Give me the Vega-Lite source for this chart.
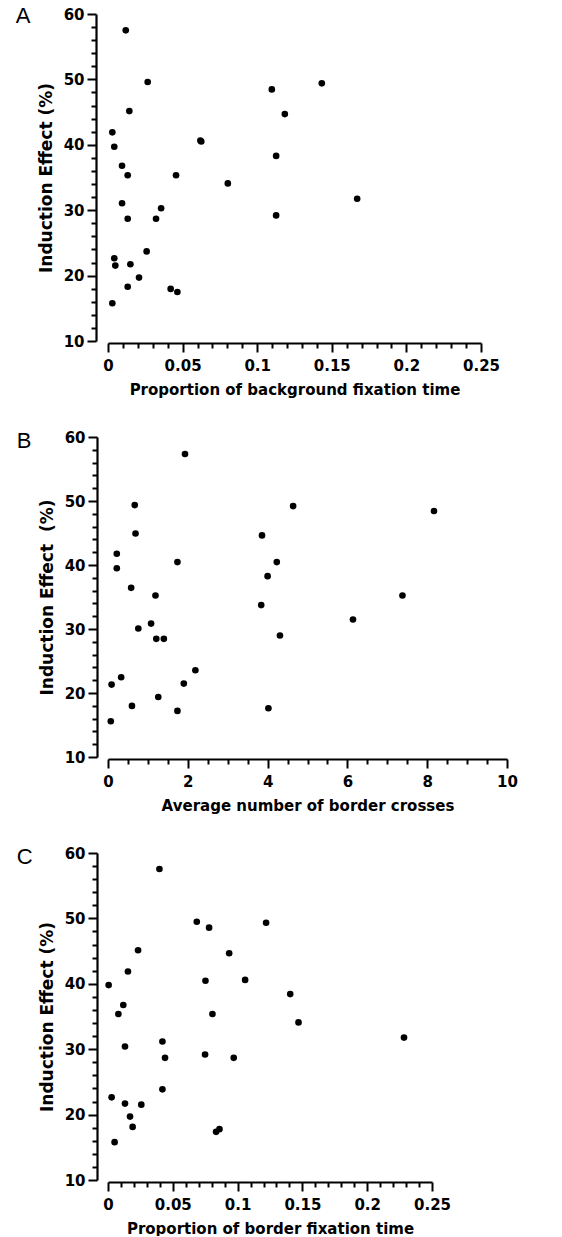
{
  "$schema": "https://vega.github.io/schema/vega-lite/v6.json",
  "padding": {"left": 15, "top": 5, "right": 5, "bottom": 0},
  "spacing": 33,
  "background": "white",
  "config": {
    "view": {"stroke": null},
    "axis": {
      "grid": false,
      "domainColor": "black",
      "domainWidth": 2.2,
      "tickColor": "black",
      "tickWidth": 2,
      "labelFont": "DejaVu Sans",
      "labelFontWeight": "bold",
      "labelFontSize": 15,
      "labelColor": "black",
      "labelOverlap": false,
      "labelFlush": false,
      "labelBound": false,
      "titleFont": "DejaVu Sans",
      "titleFontWeight": "bold",
      "titleFontSize": 15,
      "titleColor": "black"
    },
    "axisY": {"titleFontSize": 17},
    "title": {
      "font": "Liberation Sans",
      "fontSize": 22,
      "fontWeight": "normal",
      "color": "black",
      "anchor": "start",
      "frame": "bounds",
      "baseline": "alphabetic",
      "offset": -21,
      "dx": -21.5
    }
  },
  "datasets": {
    "A": [
      {"x": 0.0119, "y": 57.5}, {"x": 0.0266, "y": 49.6}, {"x": 0.0143, "y": 45.15},
      {"x": 0.0029, "y": 41.9}, {"x": 0.0042, "y": 39.7}, {"x": 0.0094, "y": 36.8},
      {"x": 0.0132, "y": 35.35}, {"x": 0.0456, "y": 35.35}, {"x": 0.0619, "y": 40.66},
      {"x": 0.0625, "y": 40.5}, {"x": 0.0803, "y": 34.1}, {"x": 0.1098, "y": 48.47},
      {"x": 0.1185, "y": 44.7}, {"x": 0.1127, "y": 38.3}, {"x": 0.1433, "y": 49.4},
      {"x": 0.167, "y": 31.75}, {"x": 0.0094, "y": 31.07}, {"x": 0.0132, "y": 28.7},
      {"x": 0.0322, "y": 28.7}, {"x": 0.0356, "y": 30.3}, {"x": 0.1127, "y": 29.2},
      {"x": 0.0042, "y": 22.65}, {"x": 0.0049, "y": 21.53}, {"x": 0.015, "y": 21.73},
      {"x": 0.0259, "y": 23.7}, {"x": 0.0208, "y": 19.7}, {"x": 0.0132, "y": 18.3},
      {"x": 0.042, "y": 17.96}, {"x": 0.0465, "y": 17.5}, {"x": 0.0029, "y": 15.77}
    ],
    "B": [
      {"x": 1.93, "y": 57.34}, {"x": 0.67, "y": 49.36}, {"x": 0.69, "y": 44.93},
      {"x": 0.22, "y": 41.75}, {"x": 0.22, "y": 39.5}, {"x": 0.58, "y": 36.43},
      {"x": 1.19, "y": 35.23}, {"x": 1.74, "y": 40.45}, {"x": 3.86, "y": 44.62},
      {"x": 4.64, "y": 49.2}, {"x": 4.23, "y": 40.45}, {"x": 4.0, "y": 38.26},
      {"x": 3.84, "y": 33.74}, {"x": 8.17, "y": 48.43}, {"x": 7.38, "y": 35.23},
      {"x": 6.14, "y": 31.48}, {"x": 0.76, "y": 30.07}, {"x": 1.08, "y": 30.85},
      {"x": 1.21, "y": 28.46}, {"x": 1.4, "y": 28.46}, {"x": 4.31, "y": 28.98},
      {"x": 2.19, "y": 23.56}, {"x": 0.33, "y": 22.46}, {"x": 0.09, "y": 21.31},
      {"x": 1.9, "y": 21.47}, {"x": 1.26, "y": 19.38}, {"x": 0.6, "y": 17.98},
      {"x": 1.74, "y": 17.2}, {"x": 4.02, "y": 17.61}, {"x": 0.07, "y": 15.58}
    ],
    "C": [
      {"x": 0.0397, "y": 57.56}, {"x": 0.0685, "y": 49.49}, {"x": 0.078, "y": 48.58},
      {"x": 0.122, "y": 49.34}, {"x": 0.0935, "y": 44.67}, {"x": 0.0232, "y": 45.13},
      {"x": 0.0154, "y": 41.88}, {"x": 0.0005, "y": 39.8}, {"x": 0.0752, "y": 40.46},
      {"x": 0.1058, "y": 40.6}, {"x": 0.1406, "y": 38.43}, {"x": 0.0118, "y": 36.75},
      {"x": 0.008, "y": 35.38}, {"x": 0.0806, "y": 35.38}, {"x": 0.147, "y": 34.1},
      {"x": 0.2284, "y": 31.78}, {"x": 0.0131, "y": 30.41}, {"x": 0.042, "y": 31.17},
      {"x": 0.044, "y": 28.68}, {"x": 0.0749, "y": 29.19}, {"x": 0.097, "y": 28.68},
      {"x": 0.042, "y": 23.86}, {"x": 0.0028, "y": 22.64}, {"x": 0.0131, "y": 21.68},
      {"x": 0.0257, "y": 21.52}, {"x": 0.017, "y": 19.7}, {"x": 0.019, "y": 18.12},
      {"x": 0.0834, "y": 17.36}, {"x": 0.086, "y": 17.77}, {"x": 0.0051, "y": 15.79}
    ]
  },
  "vconcat": [
    {
      "title": {"text": "A"},
      "width": 373,
      "height": 327,
      "data": {"name": "A"},
      "resolve": {"axis": {"x": "independent", "y": "independent"}},
      "layer": [
        {
          "mark": {"type": "circle", "size": 44, "color": "black", "opacity": 1},
          "encoding": {
            "x": {
              "field": "x", "type": "quantitative",
              "scale": {"domain": [0, 0.25], "nice": false, "zero": false},
              "axis": {
                "orient": "bottom",
                "title": "Proportion of background fixation time",
                "values": [0, 0.05, 0.1, 0.15, 0.2, 0.25],
                "labelExpr": "toString(round(datum.value*100)/100)",
                "tickSize": 9, "offset": 2, "labelPadding": 6, "titlePadding": 9
              }
            },
            "y": {
              "field": "y", "type": "quantitative",
              "scale": {"domain": [10, 60], "nice": false, "zero": false},
              "axis": {
                "orient": "left",
                "title": "Induction Effect (%)",
                "values": [10, 20, 30, 40, 50, 60],
                "labelExpr": "toString(datum.value)",
                "tickSize": 9, "offset": 12, "labelPadding": 3, "titlePadding": 8
              }
            }
          }
        },
        {
          "mark": {"type": "circle", "size": 44, "color": "black", "opacity": 0},
          "encoding": {
            "x": {
              "field": "x", "type": "quantitative",
              "scale": {"domain": [0, 0.25], "nice": false, "zero": false},
              "axis": {
                "orient": "bottom", "title": null, "labels": false, "domain": false,
                "values": [0.01,0.02,0.03,0.04,0.06,0.07,0.08,0.09,0.11,0.12,0.13,0.14,0.16,0.17,0.18,0.19,0.21,0.22,0.23,0.24],
                "tickSize": 5, "offset": 2
              }
            },
            "y": {
              "field": "y", "type": "quantitative",
              "scale": {"domain": [10, 60], "nice": false, "zero": false},
              "axis": {
                "orient": "left", "title": null, "labels": false, "domain": false,
                "values": [12,14,16,18,22,24,26,28,32,34,36,38,42,44,46,48,52,54,56,58],
                "tickSize": 5, "offset": 12
              }
            }
          }
        }
      ]
    },
    {
      "title": {"text": "B", "offset": -23},
      "width": 399,
      "height": 320,
      "data": {"name": "B"},
      "resolve": {"axis": {"x": "independent", "y": "independent"}},
      "layer": [
        {
          "mark": {"type": "circle", "size": 44, "color": "black", "opacity": 1},
          "encoding": {
            "x": {
              "field": "x", "type": "quantitative",
              "scale": {"domain": [0, 10], "nice": false, "zero": false},
              "axis": {
                "orient": "bottom",
                "title": "Average number of border crosses",
                "values": [0, 2, 4, 6, 8, 10],
                "labelExpr": "toString(datum.value)",
                "tickSize": 9, "offset": 2, "labelPadding": 6, "titlePadding": 9
              }
            },
            "y": {
              "field": "y", "type": "quantitative",
              "scale": {"domain": [10, 60], "nice": false, "zero": false},
              "axis": {
                "orient": "left",
                "title": "Induction Effect\u00a0 (%)",
                "values": [10, 20, 30, 40, 50, 60],
                "labelExpr": "toString(datum.value)",
                "tickSize": 9, "offset": 11, "labelPadding": 3, "titlePadding": 8
              }
            }
          }
        },
        {
          "mark": {"type": "circle", "size": 44, "color": "black", "opacity": 0},
          "encoding": {
            "x": {
              "field": "x", "type": "quantitative",
              "scale": {"domain": [0, 10], "nice": false, "zero": false},
              "axis": {
                "orient": "bottom", "title": null, "labels": false, "domain": false,
                "values": [0.5,1,1.5,2.5,3,3.5,4.5,5,5.5,6.5,7,7.5,8.5,9,9.5],
                "tickSize": 5, "offset": 2
              }
            },
            "y": {
              "field": "y", "type": "quantitative",
              "scale": {"domain": [10, 60], "nice": false, "zero": false},
              "axis": {
                "orient": "left", "title": null, "labels": false, "domain": false,
                "values": [12,14,16,18,22,24,26,28,32,34,36,38,42,44,46,48,52,54,56,58],
                "tickSize": 5, "offset": 11
              }
            }
          }
        }
      ]
    },
    {
      "title": {"text": "C", "offset": -23},
      "width": 324,
      "height": 327,
      "data": {"name": "C"},
      "resolve": {"axis": {"x": "independent", "y": "independent"}},
      "layer": [
        {
          "mark": {"type": "circle", "size": 44, "color": "black", "opacity": 1},
          "encoding": {
            "x": {
              "field": "x", "type": "quantitative",
              "scale": {"domain": [0, 0.25], "nice": false, "zero": false},
              "axis": {
                "orient": "bottom",
                "title": "Proportion of border fixation time",
                "values": [0, 0.05, 0.1, 0.15, 0.2, 0.25],
                "labelExpr": "toString(round(datum.value*100)/100)",
                "tickSize": 9, "offset": 2, "labelPadding": 6, "titlePadding": 9
              }
            },
            "y": {
              "field": "y", "type": "quantitative",
              "scale": {"domain": [10, 60], "nice": false, "zero": false},
              "axis": {
                "orient": "left",
                "title": "Induction Effect (%)",
                "values": [10, 20, 30, 40, 50, 60],
                "labelExpr": "toString(datum.value)",
                "tickSize": 9, "offset": 11, "labelPadding": 3, "titlePadding": 8
              }
            }
          }
        },
        {
          "mark": {"type": "circle", "size": 44, "color": "black", "opacity": 0},
          "encoding": {
            "x": {
              "field": "x", "type": "quantitative",
              "scale": {"domain": [0, 0.25], "nice": false, "zero": false},
              "axis": {
                "orient": "bottom", "title": null, "labels": false, "domain": false,
                "values": [0.01,0.02,0.03,0.04,0.06,0.07,0.08,0.09,0.11,0.12,0.13,0.14,0.16,0.17,0.18,0.19,0.21,0.22,0.23,0.24],
                "tickSize": 5, "offset": 2
              }
            },
            "y": {
              "field": "y", "type": "quantitative",
              "scale": {"domain": [10, 60], "nice": false, "zero": false},
              "axis": {
                "orient": "left", "title": null, "labels": false, "domain": false,
                "values": [12,14,16,18,22,24,26,28,32,34,36,38,42,44,46,48,52,54,56,58],
                "tickSize": 5, "offset": 11
              }
            }
          }
        }
      ]
    }
  ]
}
